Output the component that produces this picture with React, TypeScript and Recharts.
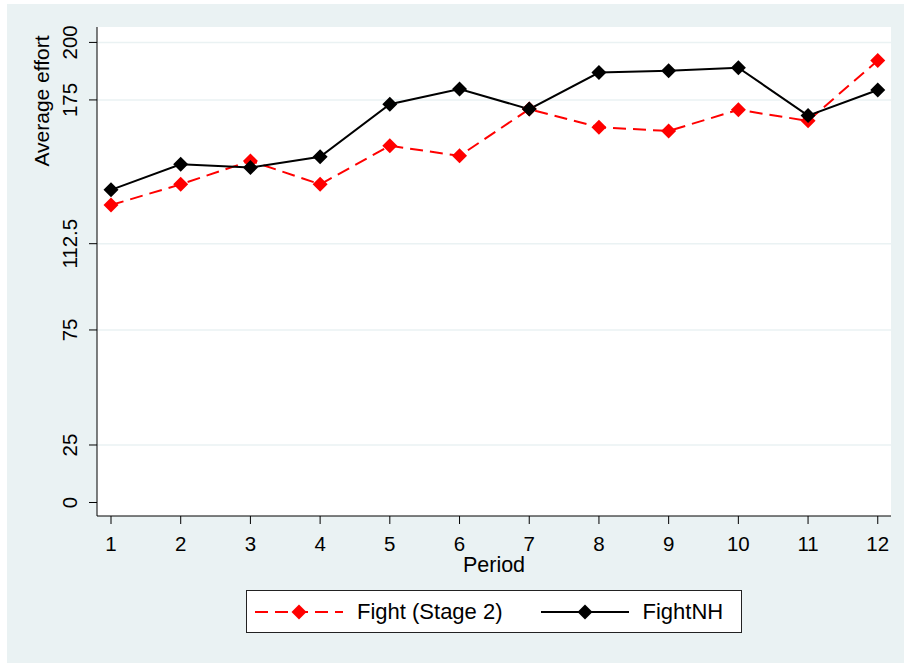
import { LineChart, Line, XAxis, YAxis, CartesianGrid, Legend } from 'recharts';

const periods = [1, 2, 3, 4, 5, 6, 7, 8, 9, 10, 11, 12];
const fightStage2 = [129.3, 138.3, 148.5, 138.3, 155.1, 150.7, 171.0, 163.1, 161.5, 170.7, 165.9, 192.1];
const fightNH = [135.9, 147.0, 145.6, 150.3, 173.1, 179.7, 171.0, 186.9, 187.7, 189.0, 168.2, 179.3];
const yTicks = [0, 25, 75, 112.5, 175, 200];
const gridValues = [25, 75, 112.5, 175, 200];

const FONT = "'Liberation Sans', Arial, Helvetica, sans-serif";
const BG = '#eaf2f3';

const chartData = periods.map((p, i) => ({
  period: p,
  fight: fightStage2[i],
  fightNH: fightNH[i]
}));

// diamond marker used by both series
function Diamond(props: any) {
  const { cx, cy, fill } = props;
  if (cx == null || cy == null) return null;
  const r = 7.5;
  return (
    <polygon
      points={`${cx},${cy - r} ${cx + r},${cy} ${cx},${cy + r} ${cx - r},${cy}`}
      fill={fill}
    />
  );
}

function YTick(props: any) {
  const { x, y, payload } = props;
  return (
    <text
      x={x}
      y={y}
      transform={`rotate(-90 ${x} ${y})`}
      textAnchor="middle"
      fontSize={20.5}
      fill="#000"
      fontFamily={FONT}
    >
      {payload.value}
    </text>
  );
}

function YTitle(props: any) {
  const { viewBox } = props;
  const x = viewBox.x + 42;
  const y = viewBox.y + 74;
  return (
    <text
      x={x}
      y={y}
      transform={`rotate(-90 ${x} ${y})`}
      textAnchor="middle"
      fontSize={21}
      fill="#000"
      fontFamily={FONT}
    >
      Average effort
    </text>
  );
}

const legendItems = [
  { label: 'Fight (Stage 2)', color: '#ff0000', dash: '13 7' },
  { label: 'FightNH', color: '#000000', dash: undefined }
];

function LegendBox() {
  return (
    <div style={{
      boxSizing: 'border-box',
      width: 496,
      height: 43,
      background: '#fff',
      border: '1px solid #222',
      display: 'flex',
      alignItems: 'center',
      paddingLeft: 8,
      fontFamily: FONT,
      fontSize: 22
    }}>
      {legendItems.map((item, i) => (
        <div key={item.label} style={{ display: 'flex', alignItems: 'center', marginLeft: i === 0 ? 0 : 38 }}>
          <svg width={88} height={20} style={{ display: 'block' }}>
            <line x1={0} y1={10} x2={88} y2={10} stroke={item.color} strokeWidth={2} strokeDasharray={item.dash} />
            <polygon points="44,2.5 51.5,10 44,17.5 36.5,10" fill={item.color} />
          </svg>
          <span style={{ marginLeft: 14, color: '#000' }}>{item.label}</span>
        </div>
      ))}
    </div>
  );
}

export default function App() {
  return (
    <div style={{ position: 'absolute', left: 7, top: 4, width: 897, height: 659, background: BG }}>
      <LineChart
        width={897}
        height={659}
        data={chartData}
        margin={{ top: 23, right: 13, left: 0, bottom: 0 }}
        style={{ fontFamily: FONT }}
      >
        <CartesianGrid
          vertical={false}
          horizontalValues={gridValues}
          stroke={BG}
          strokeWidth={1.5}
          fill="#ffffff"
          fillOpacity={1}
        />
        <XAxis
          dataKey="period"
          type="number"
          domain={[0.799, 12.19]}
          ticks={periods}
          interval={0}
          allowDataOverflow
          height={147}
          tickSize={8}
          tickMargin={12}
          stroke="#000"
          tick={{ fill: '#000', fontSize: 20.5, fontFamily: FONT }}
          label={{ value: 'Period', position: 'insideTop', offset: 41, fill: '#000', fontSize: 21.5, fontFamily: FONT }}
        />
        <YAxis
          type="number"
          domain={[-5.87, 206.7]}
          ticks={yTicks}
          interval={0}
          allowDataOverflow
          width={90}
          tickSize={8}
          tickMargin={12}
          stroke="#000"
          tick={<YTick />}
          label={<YTitle />}
        />
        <Legend
          layout="horizontal"
          verticalAlign="middle"
          align="center"
          wrapperStyle={{ left: 239, top: 586, width: 496, height: 43 }}
          content={() => <LegendBox />}
        />
        <Line
          type="linear"
          dataKey="fight"
          name="Fight (Stage 2)"
          stroke="#ff0000"
          strokeWidth={2}
          strokeDasharray="13 7"
          dot={<Diamond fill="#ff0000" />}
          activeDot={false}
          isAnimationActive={false}
        />
        <Line
          type="linear"
          dataKey="fightNH"
          name="FightNH"
          stroke="#000000"
          strokeWidth={2}
          dot={<Diamond fill="#000000" />}
          activeDot={false}
          isAnimationActive={false}
        />
      </LineChart>
    </div>
  );
}
